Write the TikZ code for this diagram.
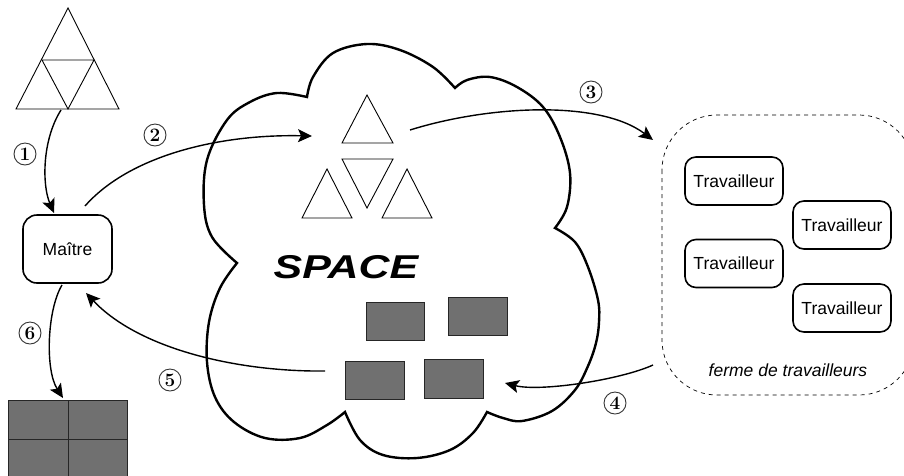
\documentclass[tikz,border=0pt]{standalone}
\usepackage{fontspec}
\newfontfamily\arial{Liberation Sans}
\usetikzlibrary{arrows.meta}
\definecolor{boxgray}{RGB}{112,112,112}
\tikzset{
  conn/.style={line width=1.4pt,-{Stealth[length=14pt,width=13pt,inset=3pt]}},
  numlabel/.style={circle,draw=black!80,line width=0.9pt,inner sep=0pt,minimum size=22pt,font=\bfseries\fontsize{19}{19}\selectfont},
  roundbox/.style={draw,line width=1.6pt,rounded corners=11pt,font=\arial\fontsize{17.5}{20}\selectfont,align=center},
  worker/.style={roundbox,minimum width=98pt,minimum height=48pt},
  chunk/.style={fill=boxgray,draw=black!85,line width=0.8pt},
  thintri/.style={line width=0.9pt,line join=miter},
  cloudline/.style={line width=2.4pt,line join=miter}
}
\begin{document}
\begin{tikzpicture}[x=1pt,y=-1pt]
\useasboundingbox (0,0) rectangle (904,475);

% top-left big triangle
\draw[thintri] (68,8) -- (119,109) -- (16,109) -- cycle;
\draw[thintri] (42,60) -- (94,60) -- (68,109) -- cycle;
\coordinate (tribase) at (61,110);

% Maitre
\node[roundbox,minimum width=89pt,minimum height=68pt,rounded corners=14pt] (maitre) at (67.5,249) {Maître};
\coordinate (m1) at (54,213);
\coordinate (m2) at (85,206);
\coordinate (m5) at (86,293);
\coordinate (m6) at (62,285);

% result grid
\draw[chunk] (8,400) rectangle (68,439);
\draw[chunk] (68,400) rectangle (127,439);
\draw[chunk] (8,439) rectangle (68,480);
\draw[chunk] (68,439) rectangle (127,480);
\coordinate (grid) at (63,398);

% cloud
\draw[cloudline]
  plot[smooth,tension=0.6] coordinates {(307,97) (313,77) (333,53) (367,44) (400,50) (433,67) (455,88)}
  -- plot[smooth,tension=0.6] coordinates {(455,88) (467,80) (490,77) (517,87) (543,107) (560,137) (570,173) (567,207) (555,228)}
  -- plot[smooth,tension=0.6] coordinates {(555,228) (575,242) (588,267) (598,300) (599,322) (596,343) (588,366) (575,390) (552,411) (522,421) (503,418) (487,412)}
  -- plot[smooth,tension=0.6] coordinates {(487,412) (473,433) (450,450) (417,458) (383,455) (360,440) (345,412)}
  -- plot[smooth,tension=0.6] coordinates {(345,412) (327,425) (300,438) (265,438) (234,422) (215,397) (207,362) (209,322) (220,288) (237,263)}
  -- plot[smooth,tension=0.6] coordinates {(237,263) (212,237) (204,205) (207,160) (227,120) (250,102) (277,93) (307,97)}
  -- cycle;

% triangles in the space
\draw[thintri] (367,95) -- (393,143) -- (342,143) -- cycle;
\draw[thintri] (342,159) -- (393,159) -- (367,208) -- cycle;
\draw[thintri] (327,169) -- (352,218) -- (302,218) -- cycle;
\draw[thintri] (407,169) -- (432,218) -- (382,218) -- cycle;
\coordinate (tin) at (312,136);
\coordinate (tout) at (410,130);

\node[font=\arial\bfseries\itshape\fontsize{33}{36}\selectfont,xscale=1.3,inner sep=0pt] (space) at (346,267) {SPACE};

% results in space
\draw[chunk] (366,302) rectangle (424,340);
\draw[chunk] (448,297) rectangle (507,335);
\draw[chunk] (345,361) rectangle (404,399);
\draw[chunk] (424,359) rectangle (483,398);
\coordinate (rin) at (505,383);
\coordinate (rout) at (325,371);

% worker farm
\draw[dashed,dash pattern=on 4pt off 4pt,line width=0.7pt,rounded corners=55pt] (662,115) rectangle (914,395);
\node[worker] (w1) at (734,181) {Travailleur};
\node[worker] (w2) at (842,225) {Travailleur};
\node[worker] (w3) at (734,263.5) {Travailleur};
\node[worker] (w4) at (842,308) {Travailleur};
\node[font=\arial\itshape\fontsize{17.5}{20}\selectfont] (farm) at (788,370) {ferme de travailleurs};
\coordinate (fin) at (653,140);
\coordinate (fout) at (653,365);

% connectors
\draw[conn] (tribase) .. controls (42,140) and (42,185) .. (m1);
\draw[conn] (m2) .. controls (130,155) and (220,134) .. (tin);
\draw[conn] (tout) .. controls (490,105) and (600,100) .. (fin);
\draw[conn] (fout) .. controls (620,380) and (540,392) .. (rin);
\draw[conn] (rout) .. controls (240,372) and (140,350) .. (m5);
\draw[conn] (m6) .. controls (47,310) and (45,370) .. (grid);

% step numbers
\node[numlabel] (n1) at (25,154) {1};
\node[numlabel] (n2) at (155,135) {2};
\node[numlabel] (n3) at (591,92) {3};
\node[numlabel] (n4) at (615,403) {4};
\node[numlabel] (n5) at (170,380) {5};
\node[numlabel] (n6) at (30,333) {6};
\end{tikzpicture}
\end{document}
